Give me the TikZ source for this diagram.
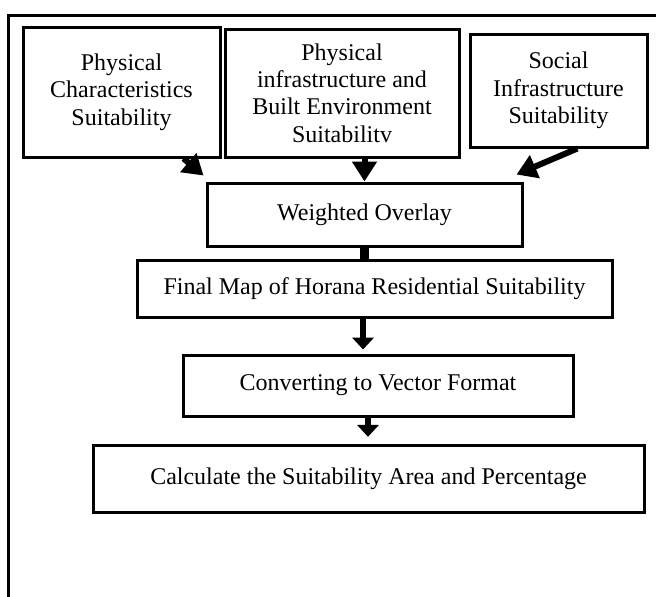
\documentclass[tikz,border=0pt]{standalone}
\usepackage{fontspec}
\setmainfont{Liberation Serif}
\usetikzlibrary{arrows.meta}

\begin{document}
\begin{tikzpicture}[x=0.75pt,y=-0.75pt,
  box/.style={draw,line width=2.25pt,align=center,inner sep=0pt,font=\fontsize{18}{20.6}\selectfont},
  bigarrow/.style={line width=4.5pt,-{Triangle[length=15pt,width=18pt]}},
  flowarrow/.style={line width=5pt,-{Triangle[length=9pt,width=16pt]}}]
\useasboundingbox (0,0) rectangle (656,596);
\draw[line width=2.25pt] (8,15) rectangle (690,620);
\node[box,minimum width=147.75pt,minimum height=97.5pt] (phys) at (121.5,92) {Physical\\Characteristics\\Suitability};
\node[box,minimum width=175.5pt,minimum height=96pt] (infra) at (342,93) {Physical\\infrastructure and\\Built Environment\\Suitabilitv};
\node[box,minimum width=132.75pt,minimum height=84.75pt] (social) at (558.5,90.5) {Social\\Infrastructure\\Suitability};
\node[box,minimum width=236.25pt,minimum height=47.25pt] (weighted) at (364.5,214.5) {Weighted Overlay};
\node[box,minimum width=356.25pt,minimum height=42.75pt] (final) at (374.5,288.5) {Final Map of Horana Residential Suitability};
\node[box,minimum width=292.5pt,minimum height=45.75pt] (vector) at (378,385.5) {Converting to Vector Format};
\node[box,minimum width=413.25pt,minimum height=50.25pt] (area) at (368.5,478.5) {Calculate the Suitability Area and Percentage};
\draw[bigarrow] (phys.-47) -- ([shift={(-2,-6)}]weighted.north west);
\draw[bigarrow] (weighted.north |- infra.south) -- (weighted.north);
\draw[bigarrow] (social.-72) -- ([shift={(-7,-7)}]weighted.north east);
\draw[line width=6.75pt] (weighted.south) -- (weighted.south |- final.north);
\draw[flowarrow,shorten >=3pt] ([xshift=-8.6pt]final.south) -- ([xshift=-8.6pt]final.south |- vector.north);
\draw[flowarrow,shorten >=5pt] ([xshift=-7.5pt]vector.south) -- ([xshift=-7.5pt]vector.south |- area.north);
\end{tikzpicture}
\end{document}
